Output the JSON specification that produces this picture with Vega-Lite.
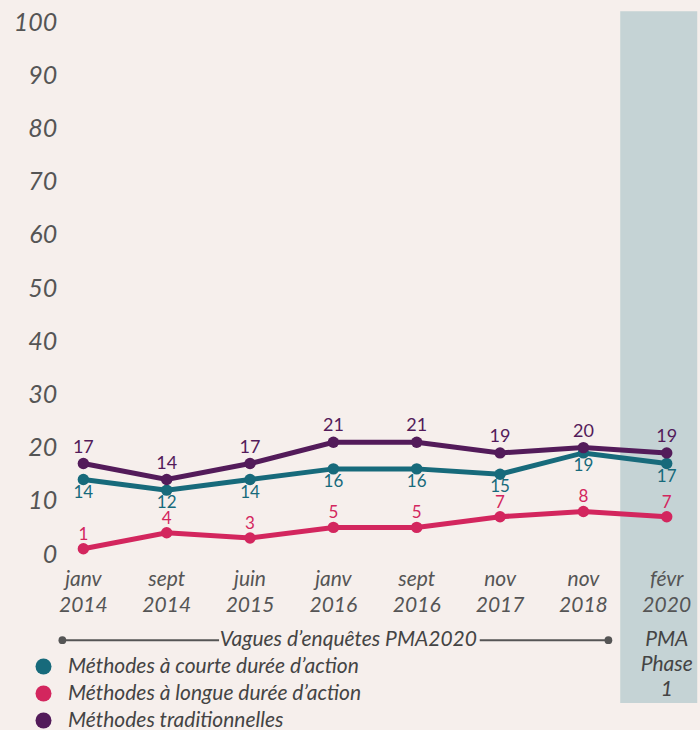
{
  "$schema": "https://vega.github.io/schema/vega-lite/v6.json",
  "width": 658.3,
  "height": 532,
  "autosize": "none",
  "padding": {"left": 41.7, "top": 22, "right": 0, "bottom": 176},
  "background": "#f6efec",
  "config": {
    "view": {"stroke": null},
    "font": "Lato",
    "axis": {"grid": false, "domain": false, "ticks": false, "zindex": 1}
  },
  "data": {
    "values": [
      {"vague": "janv 2014", "serie": "Méthodes à courte durée d’action", "valeur": 14},
      {"vague": "sept 2014", "serie": "Méthodes à courte durée d’action", "valeur": 12},
      {"vague": "juin 2015", "serie": "Méthodes à courte durée d’action", "valeur": 14},
      {"vague": "janv 2016", "serie": "Méthodes à courte durée d’action", "valeur": 16},
      {"vague": "sept 2016", "serie": "Méthodes à courte durée d’action", "valeur": 16},
      {"vague": "nov 2017", "serie": "Méthodes à courte durée d’action", "valeur": 15},
      {"vague": "nov 2018", "serie": "Méthodes à courte durée d’action", "valeur": 19},
      {"vague": "févr 2020", "serie": "Méthodes à courte durée d’action", "valeur": 17},
      {"vague": "janv 2014", "serie": "Méthodes à longue durée d’action", "valeur": 1},
      {"vague": "sept 2014", "serie": "Méthodes à longue durée d’action", "valeur": 4},
      {"vague": "juin 2015", "serie": "Méthodes à longue durée d’action", "valeur": 3},
      {"vague": "janv 2016", "serie": "Méthodes à longue durée d’action", "valeur": 5},
      {"vague": "sept 2016", "serie": "Méthodes à longue durée d’action", "valeur": 5},
      {"vague": "nov 2017", "serie": "Méthodes à longue durée d’action", "valeur": 7},
      {"vague": "nov 2018", "serie": "Méthodes à longue durée d’action", "valeur": 8},
      {"vague": "févr 2020", "serie": "Méthodes à longue durée d’action", "valeur": 7},
      {"vague": "janv 2014", "serie": "Méthodes traditionnelles", "valeur": 17},
      {"vague": "sept 2014", "serie": "Méthodes traditionnelles", "valeur": 14},
      {"vague": "juin 2015", "serie": "Méthodes traditionnelles", "valeur": 17},
      {"vague": "janv 2016", "serie": "Méthodes traditionnelles", "valeur": 21},
      {"vague": "sept 2016", "serie": "Méthodes traditionnelles", "valeur": 21},
      {"vague": "nov 2017", "serie": "Méthodes traditionnelles", "valeur": 19},
      {"vague": "nov 2018", "serie": "Méthodes traditionnelles", "valeur": 20},
      {"vague": "févr 2020", "serie": "Méthodes traditionnelles", "valeur": 19}
    ]
  },
  "layer": [
    {
      "data": {"values": [{}]},
      "mark": {"type": "bar", "color": "#c5d3d5", "width": 77, "xOffset": -8},
      "encoding": {
        "x": {"datum": "févr 2020", "type": "nominal",
              "scale": {"type": "band", "paddingInner": 0, "paddingOuter": 0, "range": [0, 666.7],
                        "domain": ["janv 2014", "sept 2014", "juin 2015", "janv 2016", "sept 2016", "nov 2017", "nov 2018", "févr 2020"]},
              "axis": {"title": null, "labelAngle": 0, "labelExpr": "split(datum.value, ' ')", "labelFont": "Lato",
                       "labelFontStyle": "italic", "labelFontSize": 21, "labelColor": "#555555",
                       "labelLineHeight": 26, "labelPadding": 14, "zindex": 2, "labelOverlap": false, "labelBound": false}},
        "y": {"datum": 102, "type": "quantitative",
              "scale": {"domain": [0, 100], "nice": false},
              "axis": {"title": null, "values": [0, 10, 20, 30, 40, 50, 60, 70, 80, 90, 100],
                       "labelFont": "Lato", "labelFontStyle": "italic", "labelFontSize": 25,
                       "labelColor": "#555555", "labelPadding": 2, "offset": -17}},
        "y2": {"datum": -28}
      }
    },
    {
      "mark": {"type": "line", "strokeWidth": 5},
      "encoding": {
        "x": {"field": "vague", "type": "nominal"},
        "y": {"field": "valeur", "type": "quantitative"},
        "color": {"field": "serie", "type": "nominal",
                  "scale": {"domain": ["Méthodes à courte durée d’action", "Méthodes à longue durée d’action", "Méthodes traditionnelles"],
                            "range": ["#176a7b", "#d3265e", "#531b5a"]},
                  "legend": {"title": null, "orient": "none", "legendX": -8.7, "legendY": 634, "padding": 0,
                             "symbolType": "circle", "symbolSize": 256, "symbolStrokeWidth": 0,
                             "labelFont": "Lato", "labelFontStyle": "italic", "labelFontSize": 21,
                             "labelColor": "#444444", "labelOffset": 14, "rowPadding": 5, "labelLimit": 500}}
      }
    },
    {
      "mark": {"type": "point", "filled": true, "opacity": 1, "size": 130},
      "encoding": {
        "x": {"field": "vague", "type": "nominal"},
        "y": {"field": "valeur", "type": "quantitative"},
        "color": {"field": "serie", "type": "nominal"}
      }
    },
    {
      "transform": [{"filter": "datum.serie === 'Méthodes traditionnelles'"}],
      "mark": {"type": "text", "dy": -16, "fontSize": 18, "font": "Lato", "baseline": "middle"},
      "encoding": {
        "x": {"field": "vague", "type": "nominal"},
        "y": {"field": "valeur", "type": "quantitative"},
        "text": {"field": "valeur", "type": "quantitative"},
        "color": {"field": "serie", "type": "nominal"}
      }
    },
    {
      "transform": [{"filter": "datum.serie === 'Méthodes à longue durée d’action'"}],
      "mark": {"type": "text", "dy": -14, "fontSize": 17, "font": "Lato", "baseline": "middle"},
      "encoding": {
        "x": {"field": "vague", "type": "nominal"},
        "y": {"field": "valeur", "type": "quantitative"},
        "text": {"field": "valeur", "type": "quantitative"},
        "color": {"field": "serie", "type": "nominal"}
      }
    },
    {
      "transform": [{"filter": "datum.serie === 'Méthodes à courte durée d’action'"}],
      "mark": {"type": "text", "dy": 13, "fontSize": 17, "font": "Lato", "baseline": "middle"},
      "encoding": {
        "x": {"field": "vague", "type": "nominal"},
        "y": {"field": "valeur", "type": "quantitative"},
        "text": {"field": "valeur", "type": "quantitative"},
        "color": {"field": "serie", "type": "nominal"}
      }
    },
    {
      "data": {"values": [{}]},
      "mark": {"type": "rule", "color": "#555555", "strokeWidth": 2, "xOffset": -21, "x2Offset": -31},
      "encoding": {
        "x": {"datum": "janv 2014", "type": "nominal"},
        "x2": {"datum": "juin 2015"},
        "y": {"datum": -16.2, "type": "quantitative"}
      }
    },
    {
      "data": {"values": [{}]},
      "mark": {"type": "rule", "color": "#555555", "strokeWidth": 2, "xOffset": 63, "x2Offset": 25},
      "encoding": {
        "x": {"datum": "sept 2016", "type": "nominal"},
        "x2": {"datum": "nov 2018"},
        "y": {"datum": -16.2, "type": "quantitative"}
      }
    },
    {
      "data": {"values": [{}]},
      "mark": {"type": "point", "filled": true, "opacity": 1, "size": 60, "color": "#555555", "xOffset": -21},
      "encoding": {
        "x": {"datum": "janv 2014", "type": "nominal"},
        "y": {"datum": -16.2, "type": "quantitative"}
      }
    },
    {
      "data": {"values": [{}]},
      "mark": {"type": "point", "filled": true, "opacity": 1, "size": 60, "color": "#555555", "xOffset": 25},
      "encoding": {
        "x": {"datum": "nov 2018", "type": "nominal"},
        "y": {"datum": -16.2, "type": "quantitative"}
      }
    },
    {
      "data": {"values": [{}]},
      "mark": {"type": "text", "text": "Vagues d’enquêtes PMA2020", "font": "Lato", "fontStyle": "italic",
               "fontSize": 21, "color": "#444444", "baseline": "middle", "align": "center", "xOffset": 15},
      "encoding": {
        "x": {"datum": "janv 2016", "type": "nominal"},
        "y": {"datum": -16.2, "type": "quantitative"}
      }
    },
    {
      "data": {"values": [{}]},
      "mark": {"type": "text", "text": "PMA\nPhase\n1", "lineBreak": "\n", "lineHeight": 25, "font": "Lato", "fontStyle": "italic",
               "fontSize": 21, "color": "#444444", "baseline": "middle", "align": "center"},
      "encoding": {
        "x": {"datum": "févr 2020", "type": "nominal"},
        "y": {"datum": -16.2, "type": "quantitative"}
      }
    }
  ]
}
